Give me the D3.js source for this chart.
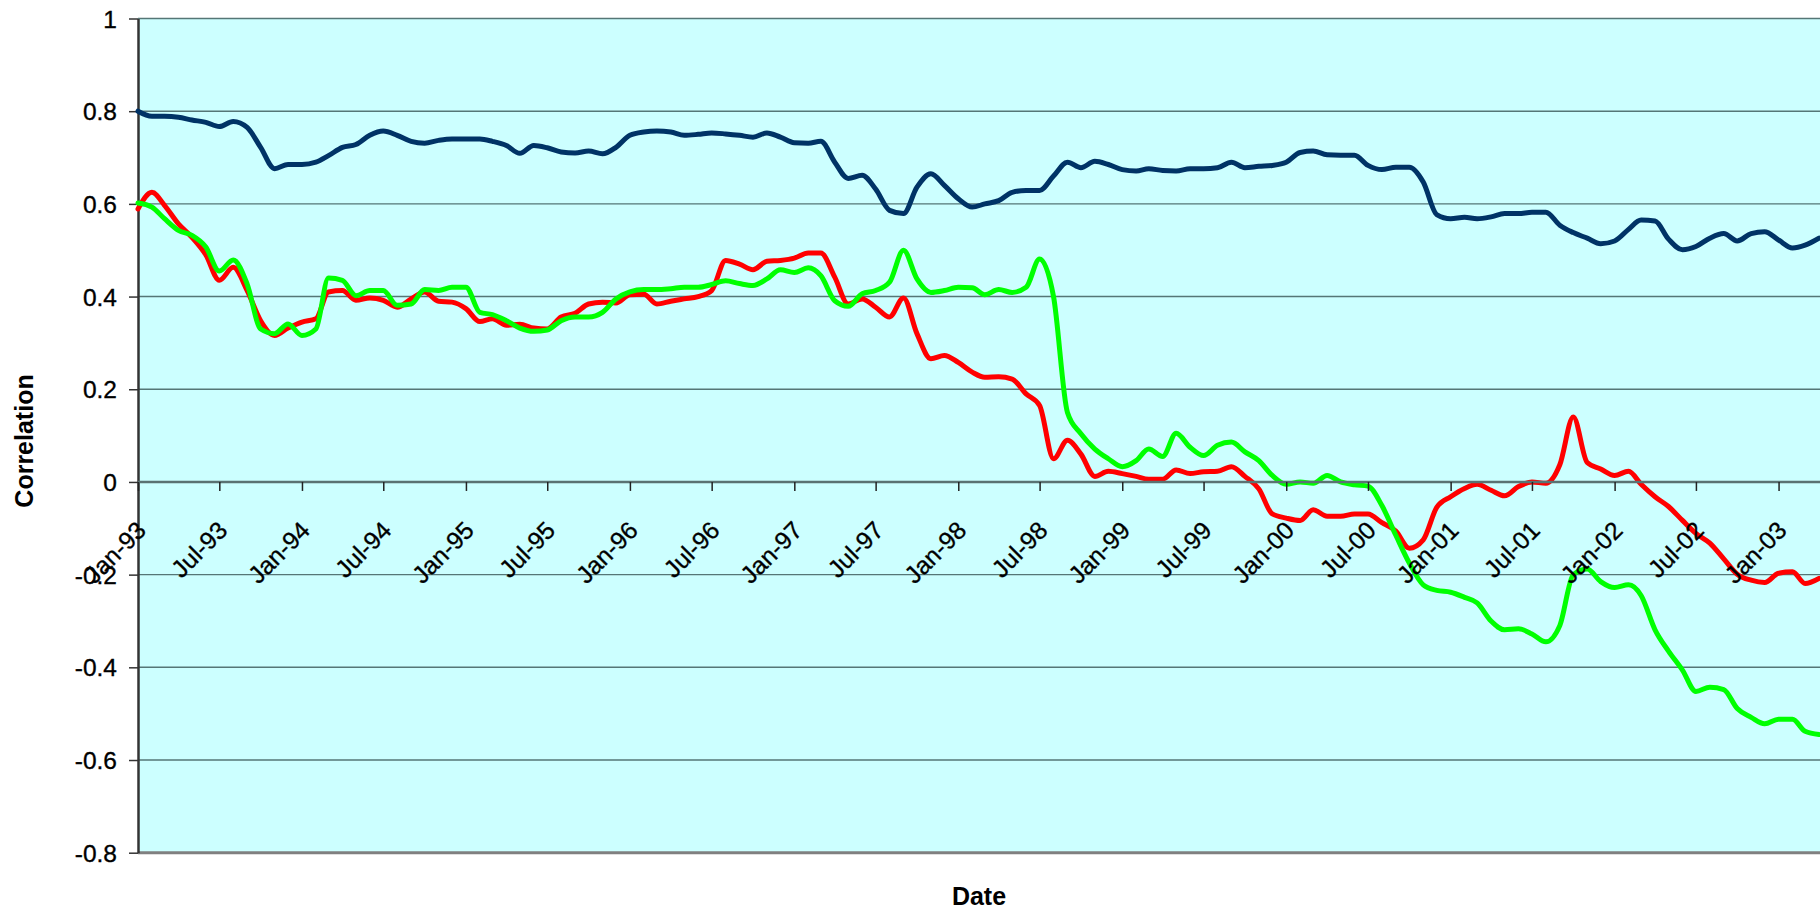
<!DOCTYPE html>
<html>
<head>
<meta charset="utf-8">
<script src="https://cdn.jsdelivr.net/npm/d3@7/dist/d3.min.js"></script>
<style>
  html, body { margin: 0; padding: 0; background: #ffffff; }
  svg { display: block; }
  text { font-family: "Liberation Sans", Arial, sans-serif; }
</style>
</head>
<body>
<svg id="chart" width="1820" height="910"></svg>
<script>
// ---------------- DATA ----------------
// monthly observations, first = Jan 1993, last = Apr 2003
const startMonth = "1993-01";
const blueSeries = [
  0.800, 0.789, 0.789, 0.787, 0.781, 0.776, 0.767, 0.778, 0.765, 0.722, 0.676, 0.685, // 1993
  0.685, 0.690, 0.704, 0.722, 0.728, 0.748, 0.757, 0.748, 0.735, 0.731, 0.737, 0.740, // 1994
  0.740, 0.740, 0.735, 0.726, 0.709, 0.726, 0.721, 0.712, 0.710, 0.714, 0.708, 0.722, // 1995
  0.748, 0.755, 0.757, 0.755, 0.748, 0.750, 0.753, 0.751, 0.748, 0.744, 0.753, 0.744, // 1996
  0.732, 0.731, 0.735, 0.690, 0.655, 0.662, 0.632, 0.586, 0.579, 0.636, 0.665, 0.640, // 1997
  0.611, 0.593, 0.600, 0.607, 0.625, 0.629, 0.629, 0.660, 0.690, 0.678, 0.692, 0.685, // 1998
  0.674, 0.671, 0.676, 0.672, 0.671, 0.676, 0.676, 0.678, 0.690, 0.678, 0.681, 0.683, // 1999
  0.690, 0.711, 0.714, 0.706, 0.705, 0.705, 0.683, 0.674, 0.679, 0.679, 0.647, 0.577, // 2000
  0.568, 0.571, 0.568, 0.572, 0.579, 0.579, 0.582, 0.582, 0.554, 0.538, 0.526, 0.514, // 2001
  0.520, 0.545, 0.565, 0.563, 0.524, 0.501, 0.508, 0.526, 0.536, 0.520, 0.536, 0.540, // 2002
  0.522, 0.505, 0.511, 0.526                                                          // 2003
];
const redSeries = [
  0.589, 0.625, 0.597, 0.557, 0.528, 0.490, 0.435, 0.463, 0.413, 0.348, 0.316, 0.332,
  0.345, 0.352, 0.410, 0.413, 0.392, 0.397, 0.392, 0.377, 0.395, 0.410, 0.390, 0.388,
  0.374, 0.346, 0.352, 0.338, 0.340, 0.332, 0.330, 0.356, 0.364, 0.384, 0.388, 0.386,
  0.404, 0.405, 0.384, 0.390, 0.395, 0.400, 0.413, 0.478, 0.470, 0.458, 0.476, 0.478,
  0.483, 0.494, 0.494, 0.442, 0.384, 0.395, 0.377, 0.356, 0.397, 0.320, 0.266, 0.273,
  0.258, 0.237, 0.226, 0.227, 0.222, 0.190, 0.165, 0.050, 0.090, 0.060, 0.012, 0.023,
  0.018, 0.012, 0.006, 0.006, 0.026, 0.018, 0.022, 0.023, 0.033, 0.012, -0.015, -0.069,
  -0.078, -0.083, -0.060, -0.074, -0.074, -0.069, -0.069, -0.088, -0.106, -0.143, -0.125, -0.055,
  -0.032, -0.014, -0.005, -0.018, -0.030, -0.010, 0.000, -0.003, 0.037, 0.140, 0.042, 0.028,
  0.014, 0.023, -0.005, -0.032, -0.053, -0.083, -0.111, -0.132, -0.166, -0.199, -0.212, -0.217,
  -0.197, -0.194, -0.219, -0.208
];
const greenSeries = [
  0.602, 0.593, 0.568, 0.543, 0.532, 0.507, 0.455, 0.479, 0.427, 0.330, 0.320, 0.341,
  0.316, 0.330, 0.440, 0.435, 0.402, 0.413, 0.413, 0.381, 0.384, 0.415, 0.413, 0.420,
  0.420, 0.366, 0.361, 0.348, 0.332, 0.325, 0.328, 0.348, 0.356, 0.356, 0.366, 0.395,
  0.410, 0.415, 0.415, 0.417, 0.420, 0.420, 0.426, 0.434, 0.428, 0.424, 0.438, 0.458,
  0.452, 0.462, 0.445, 0.391, 0.379, 0.406, 0.413, 0.431, 0.500, 0.438, 0.409, 0.413,
  0.420, 0.419, 0.404, 0.415, 0.409, 0.420, 0.481, 0.400, 0.150, 0.104, 0.071, 0.050,
  0.033, 0.046, 0.071, 0.055, 0.105, 0.075, 0.057, 0.079, 0.086, 0.065, 0.046, 0.014,
  -0.005, 0.000, -0.003, 0.014, 0.000, -0.006, -0.009, -0.051, -0.115, -0.175, -0.222, -0.234,
  -0.238, -0.249, -0.261, -0.300, -0.319, -0.317, -0.328, -0.345, -0.310, -0.200, -0.188, -0.215,
  -0.228, -0.222, -0.245, -0.319, -0.365, -0.406, -0.452, -0.443, -0.448, -0.489, -0.508, -0.522,
  -0.512, -0.512, -0.538, -0.545
];
const yTickValues = [-0.8, -0.6, -0.4, -0.2, 0, 0.2, 0.4, 0.6, 0.8, 1];
const xTickLabels = ["Jan-93","Jul-93","Jan-94","Jul-94","Jan-95","Jul-95","Jan-96","Jul-96",
  "Jan-97","Jul-97","Jan-98","Jul-98","Jan-99","Jul-99","Jan-00","Jul-00","Jan-01","Jul-01",
  "Jan-02","Jul-02","Jan-03"];
const seriesColors = ["#003366", "#FF0000", "#00FF00"];
const yTitle = "Correlation";
const xTitle = "Date";

// ---------------- LAYOUT ----------------
const W = 1820, H = 910;
const plot = { left: 138, right: 1819, top: 18.5, bottom: 852.7 };

const parseMonth = d3.timeParse("%Y-%m");
const start = parseMonth(startMonth);
const dates = blueSeries.map((_, i) => d3.timeMonth.offset(start, i));

const x = d3.scaleTime()
  .domain([start, dates[dates.length - 1]])
  .range([plot.left, plot.right]);
const y = d3.scaleLinear().domain([-0.8, 1]).range([plot.bottom, plot.top]);

const svg = d3.select("#chart");

// plot background
svg.append("rect")
  .attr("x", plot.left).attr("y", plot.top)
  .attr("width", W - plot.left).attr("height", plot.bottom - plot.top)
  .attr("fill", "#CCFFFF");

// gridlines
svg.append("g").selectAll("line")
  .data(yTickValues.filter(v => v !== -0.8 && v !== 0))
  .join("line")
  .attr("x1", plot.left).attr("x2", W)
  .attr("y1", d => y(d)).attr("y2", d => y(d))
  .attr("stroke", "#557676").attr("stroke-width", 1.4);

// bottom border of plot area
svg.append("line")
  .attr("x1", plot.left).attr("x2", W)
  .attr("y1", plot.bottom).attr("y2", plot.bottom)
  .attr("stroke", "#808080").attr("stroke-width", 3);

// y axis
const yAxis = d3.axisLeft(y)
  .tickValues(yTickValues)
  .tickFormat(d => String(d))
  .tickSizeInner(9).tickSizeOuter(0).tickPadding(12);
const gy = svg.append("g")
  .attr("transform", `translate(${plot.left},0)`)
  .call(yAxis);
gy.select(".domain").attr("stroke", "#333").attr("stroke-width", 2.5);
gy.selectAll(".tick line").attr("stroke", "#333").attr("stroke-width", 1.5);
gy.selectAll(".tick text")
  .attr("font-size", 24.5).attr("fill", "#000")
  .attr("stroke", "#000").attr("stroke-width", 0.35)
  .attr("font-family", "'Liberation Sans', Arial, sans-serif")
  .attr("dy", "0.35em");

// series lines
const line = d3.line()
  .x((d, i) => x(dates[i]))
  .y(d => y(d))
  .curve(d3.curveMonotoneX);

const allSeries = [blueSeries, redSeries, greenSeries];
svg.append("g").selectAll("path")
  .data(allSeries)
  .join("path")
  .attr("d", d => line(d))
  .attr("fill", "none")
  .attr("stroke", (d, i) => seriesColors[i])
  .attr("stroke-width", 5)
  .attr("stroke-linejoin", "round")
  .attr("stroke-linecap", "round");

// x axis at y = 0
const xTicks = d3.timeMonth.every(6).range(start, d3.timeMonth.offset(dates[dates.length - 1], 1));
const xAxis = d3.axisBottom(x)
  .tickValues(xTicks)
  .tickFormat((d, i) => xTickLabels[i])
  .tickSizeInner(9).tickSizeOuter(0);
const gx = svg.append("g")
  .attr("transform", `translate(0,${y(0)})`)
  .call(xAxis);
gx.select(".domain").attr("stroke", "#5a7272").attr("stroke-width", 2.5)
  .attr("d", `M${plot.left},0H${W}`);
gx.selectAll(".tick line").attr("stroke", "#222").attr("stroke-width", 1.5);
gx.selectAll(".tick text")
  .attr("font-size", 24.5).attr("fill", "#000")
  .attr("stroke", "#000").attr("stroke-width", 0.35)
  .attr("font-family", "'Liberation Sans', Arial, sans-serif")
  .attr("text-anchor", "end")
  .attr("x", 0).attr("y", 0).attr("dy", 0)
  .attr("transform", "translate(9,50) rotate(-45)");

// axis titles
svg.append("text")
  .attr("transform", "translate(33,441) rotate(-90)")
  .attr("text-anchor", "middle")
  .attr("font-size", 25).attr("font-weight", "bold")
  .text(yTitle);
svg.append("text")
  .attr("x", (plot.left + W) / 2).attr("y", 905)
  .attr("text-anchor", "middle")
  .attr("font-size", 25).attr("font-weight", "bold")
  .text(xTitle);
</script>
</body>
</html>
